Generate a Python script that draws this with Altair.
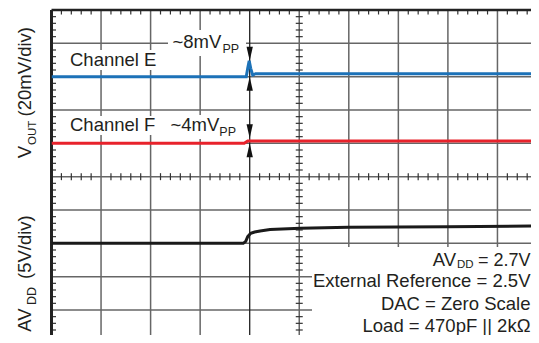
import altair as alt
import pandas as pd

# ---------------- data read from the scope capture ----------------
# time axis in horizontal divisions (0 = left edge of the screen)
time_e = [0, 3.93, 3.96, 3.99, 4.02, 4.06, 4.12, 10]
channel_e_mv = [0, 0, 5.0, 9.6, 5.0, 1.0, 1.8, 1.8]

time_f = [0, 3.89, 3.96, 10]
channel_f_mv = [0, 0, 1.4, 1.4]

time_avdd = [0, 3.87, 3.92, 3.96, 4.02, 4.10, 4.21, 4.41, 5.02, 5.99, 8.0, 10]
avdd_v = [0, 0, 0.3, 1.0, 1.5, 1.7, 1.85, 2.07, 2.27, 2.4, 2.5, 2.6]

arrow_channel = ["E", "E", "F", "F"]
arrow_dir = ["down", "up", "down", "up"]
arrow_mv = [9.6, 0.0, 3.0, 0.0]
arrow_time = 4.0

# scope settings
VOUT_MV_PER_DIV = 20
AVDD_V_PER_DIV = 5
E_POS, F_POS, AVDD_POS = 8, 6, 3

# ---------------- layout ----------------
PX_DIV_X = 49.55
PX_DIV_Y = 33.333
OX, OY = 51.5, 10  # plot origin on the page
W = 531 - OX        # canvas must fit inside the 523px body
H = 325
XMAX = W / PX_DIV_X
YMIN = 10 - H / PX_DIV_Y

FONT = "Liberation Sans"
TXT = "#231f20"
BLUE = "#1c72b8"
RED = "#e8222b"
BLACK = "#1a1a1a"
GRID = "#666666"
FS = 18.5
SUB = 11.5

xs = alt.Scale(domain=[0, XMAX], nice=False, zero=False)
ys = alt.Scale(domain=[YMIN, 10], nice=False, zero=False)


def X(f):
    return alt.X(f, type="quantitative", scale=xs, axis=None)


def Y(f):
    return alt.Y(f, type="quantitative", scale=ys, axis=None)


one = pd.DataFrame({"a": [0]})

layers = []

# grid
gx = pd.DataFrame({"x": [1, 2, 3, 5, 6, 7, 8, 9]})
layers.append(alt.Chart(gx).mark_rule(color=GRID, strokeWidth=1.5).encode(x=X("x")))
gy = pd.DataFrame({"y": [1, 2, 3, 4, 5, 6, 7, 8, 9]})
layers.append(alt.Chart(gy).mark_rule(color=GRID, strokeWidth=1.5).encode(y=Y("y")))
layers.append(alt.Chart(pd.DataFrame({"x": [4]})).mark_rule(color="#222", strokeWidth=1.3).encode(x=X("x")))

# minor ticks
mx = [round(0.2 * k, 2) for k in range(1, 50) if k % 5]
my = [round(0.2 * k, 2) for k in range(2, 50) if k % 5]
dy_c = 3.5 / PX_DIV_Y
dx_c = 3.5 / PX_DIV_X
tk_h = pd.DataFrame({"x": mx, "y1": 5 - dy_c, "y2": 5 + dy_c})
layers.append(alt.Chart(tk_h).mark_rule(color="#333", strokeWidth=1.2).encode(x=X("x"), y=Y("y1"), y2=alt.Y2("y2")))
tk_v = pd.DataFrame({"y": my, "x1": 5 - dx_c, "x2": 5 + dx_c})
layers.append(alt.Chart(tk_v).mark_rule(color="#333", strokeWidth=1.2).encode(y=Y("y"), x=X("x1"), x2=alt.X2("x2")))
tk_top = pd.DataFrame({"x": mx, "y1": 10 - 4.5 / PX_DIV_Y, "y2": 10})
layers.append(alt.Chart(tk_top).mark_rule(color="#333", strokeWidth=1.2).encode(x=X("x"), y=Y("y1"), y2=alt.Y2("y2")))
tk_left = pd.DataFrame({"y": my, "x1": 0, "x2": 4.5 / PX_DIV_X})
layers.append(alt.Chart(tk_left).mark_rule(color="#333", strokeWidth=1.2).encode(y=Y("y"), x=X("x1"), x2=alt.X2("x2")))

# frame
layers.append(alt.Chart(pd.DataFrame({"x": [0]})).mark_rule(color="#222", strokeWidth=3).encode(x=X("x")))
layers.append(alt.Chart(pd.DataFrame({"y": [10]})).mark_rule(color="#222", strokeWidth=2.5).encode(y=Y("y")))


# white backgrounds behind labels (page pixel boxes)
def bg(x1, y1, x2, y2):
    return alt.Chart(one).mark_rect(color="white").encode(
        x=alt.value(x1 - OX), x2=alt.value(x2 - OX), y=alt.value(y1 - OY), y2=alt.value(y2 - OY))


layers.append(bg(312, 247, 560, 337))
layers.append(bg(168, 30, 246, 56))
layers.append(bg(168, 115, 242, 139))
layers.append(bg(67, 50, 158, 70))
layers.append(bg(67, 116, 158, 135))

# traces
e_df = pd.DataFrame({"t": time_e, "v": channel_e_mv})
layers.append(alt.Chart(e_df).transform_calculate(d=f"{E_POS} + datum.v / {VOUT_MV_PER_DIV}")
              .mark_line(color=BLUE, strokeWidth=3, clip=True).encode(x=X("t"), y=Y("d")))
f_df = pd.DataFrame({"t": time_f, "v": channel_f_mv})
layers.append(alt.Chart(f_df).transform_calculate(d=f"{F_POS} + datum.v / {VOUT_MV_PER_DIV}")
              .mark_line(color=RED, strokeWidth=3, clip=True).encode(x=X("t"), y=Y("d")))
a_df = pd.DataFrame({"t": time_avdd, "v": avdd_v})
layers.append(alt.Chart(a_df).transform_calculate(d=f"{AVDD_POS} + datum.v / {AVDD_V_PER_DIV}")
              .mark_line(color=BLACK, strokeWidth=3, clip=True).encode(x=X("t"), y=Y("d")))

# arrows
arr_df = pd.DataFrame({"ch": arrow_channel, "dir": arrow_dir, "v": arrow_mv, "t": arrow_time})
DOWN = "M0,0L-0.45,-2L0.45,-2Z"
UP = "M0,0L-0.45,2L0.45,2Z"
for d, shp in (("down", DOWN), ("up", UP)):
    layers.append(
        alt.Chart(arr_df)
        .transform_filter(f"datum.dir == '{d}'")
        .transform_calculate(d2=f"(datum.ch == 'E' ? {E_POS} : {F_POS}) + datum.v / {VOUT_MV_PER_DIV}")
        .mark_point(shape=shp, size=196, filled=True, color="#111", opacity=1, strokeWidth=0)
        .encode(x=X("t"), y=Y("d2"))
    )


# text
def txt(s, x, y, size=FS, align="left", angle=0):
    kw = dict(text=s, fontSize=size, font=FONT, align=align, baseline="alphabetic", color=TXT)
    if angle:
        kw["angle"] = angle
    return alt.Chart(one).mark_text(**kw).encode(x=alt.value(x - OX), y=alt.value(y - OY))


R = 530.5
layers += [
    txt("Channel E", 70, 65.5),
    txt("Channel F", 70, 131),
    txt("~8mV", 172.5, 47.5),
    txt("PP", 222.5, 53.3, SUB + 1),
    txt("~4mV", 170.5, 131),
    txt("PP", 219.3, 135.5, SUB + 1),
    txt("AV", 456, 266, align="right"),
    txt("DD", 457, 268.2, SUB),
    txt("= 2.7V", R, 266, size=18, align="right"),
    txt("External Reference = 2.5V", R, 287, align="right"),
    txt("DAC = Zero Scale", R, 310, align="right"),
    txt("Load = 470pF || 2k\u03a9", R, 331.7, align="right"),
    txt("V", 30.7, 158.3, angle=270),
    txt("OUT", 35.5, 145, SUB, angle=270),
    txt("(20mV/div)", 30.7, 116.5, angle=270),
    txt("AV", 30.7, 331.7, angle=270),
    txt("DD", 35.5, 305, SUB + 1, angle=270),
    txt("(5V/div)", 30.7, 279, angle=270),
]

chart = (
    alt.layer(*layers)
    .properties(
        width=W,
        height=H,
        padding={"left": OX - 8, "top": OY - 8, "right": 0, "bottom": 0},
        autosize=alt.AutoSizeParams(type="none"),
    )
    .configure_view(stroke=None)
)

chart.save("out.html", embed_options={"renderer": "svg", "actions": False})
